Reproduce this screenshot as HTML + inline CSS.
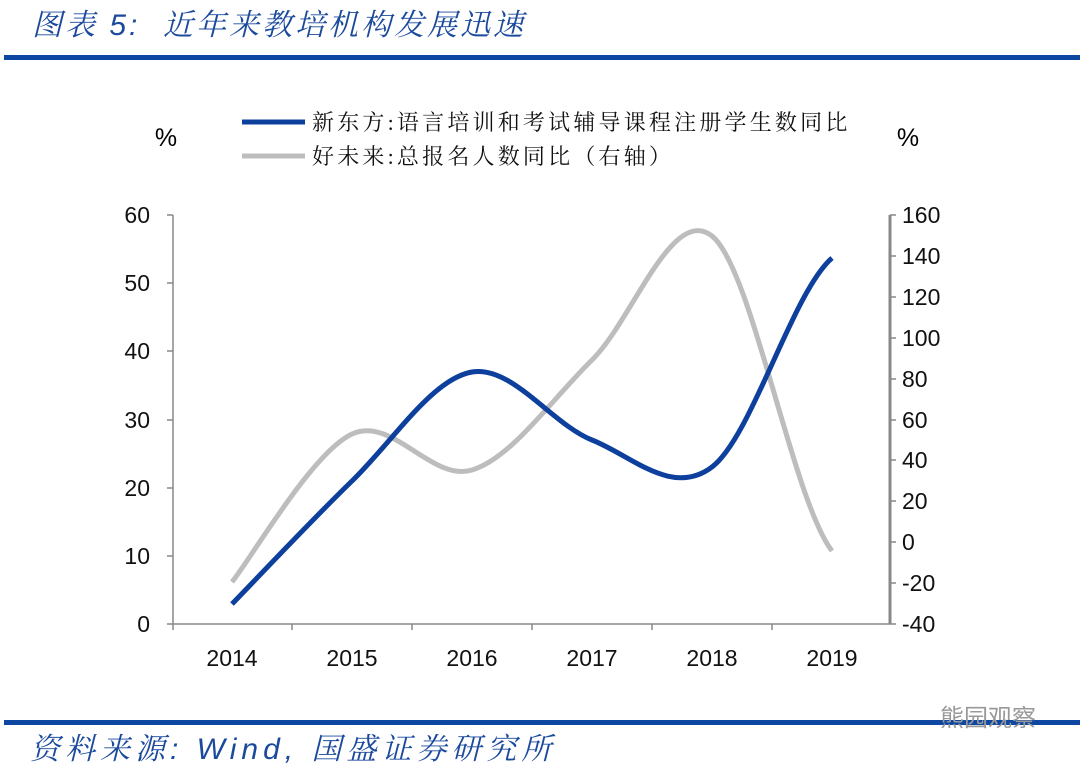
<!DOCTYPE html>
<html><head><meta charset="utf-8"><style>
body{margin:0;background:#fff;width:1080px;height:762px;overflow:hidden;position:relative}
.t{position:absolute;font-family:"Liberation Sans","Noto Serif CJK SC",serif;font-style:italic;color:#1b4a9c;white-space:nowrap}
</style></head><body>
<div class="t" style="left:32px;top:0px;font-size:30px;letter-spacing:3px">图表 5:&nbsp; 近年来教培机构发展迅速</div>
<div style="position:absolute;left:4px;top:55px;width:1076px;height:5px;background:#0d47a1"></div>
<div style="position:absolute;left:4px;top:720px;width:1076px;height:5px;background:#0d47a1"></div>
<div class="t" style="left:30px;top:724px;font-size:30px;letter-spacing:5px">资料来源:&nbsp;Wind,&nbsp;国盛证券研究所</div>
<div style="position:absolute;left:940px;top:698px;font-family:'Noto Sans CJK SC',sans-serif;font-size:24px;color:#999">熊园观察</div>
<svg width="1080" height="762" style="position:absolute;left:0;top:0" font-family="Liberation Sans, sans-serif">
<g stroke="#888" stroke-width="1.5" fill="none">
<line x1="173" y1="215" x2="173" y2="624"/>
<line x1="173" y1="624" x2="890" y2="624"/>
<line x1="890" y1="215" x2="890" y2="624" stroke-width="3"/>
<path d="M167 215h6M167 283h6M167 351h6M167 420h6M167 488h6M167 556h6M167 624h6"/>
<path d="M890 215h6M890 256h6M890 297h6M890 338h6M890 379h6M890 420h6M890 460h6M890 501h6M890 542h6M890 583h6M890 624h6"/>
<path d="M173 624v6M292 624v6M412 624v6M532 624v6M652 624v6M772 624v6"/>
</g>
<g font-size="23" fill="#111" text-anchor="end">
<text x="150" y="223">60</text><text x="150" y="291">50</text><text x="150" y="359">40</text><text x="150" y="428">30</text><text x="150" y="496">20</text><text x="150" y="564">10</text><text x="150" y="632">0</text>
</g>
<g font-size="23" fill="#111" text-anchor="start">
<text x="902" y="223">160</text><text x="902" y="264">140</text><text x="902" y="305">120</text><text x="902" y="346">100</text><text x="902" y="387">80</text><text x="902" y="428">60</text><text x="902" y="468">40</text><text x="902" y="509">20</text><text x="902" y="550">0</text><text x="902" y="591">-20</text><text x="902" y="632">-40</text>
</g>
<g font-size="23" fill="#111" text-anchor="middle">
<text x="232" y="666">2014</text><text x="352" y="666">2015</text><text x="472" y="666">2016</text><text x="592" y="666">2017</text><text x="712" y="666">2018</text><text x="832" y="666">2019</text>
</g>
<text x="166" y="146" font-size="25" text-anchor="middle">%</text>
<text x="908" y="146" font-size="25" text-anchor="middle">%</text>
<line x1="242" y1="122" x2="305" y2="122" stroke="#0d3f9c" stroke-width="5"/>
<line x1="242" y1="156" x2="305" y2="156" stroke="#bdbdbd" stroke-width="5"/>
<g font-family="Liberation Serif, Noto Serif CJK SC, serif" font-size="22" fill="#111" letter-spacing="3.2">
<text x="312" y="130">新东方:语言培训和考试辅导课程注册学生数同比</text>
<text x="312" y="164">好未来:总报名人数同比（右轴）</text>
</g>
<path fill="none" stroke="#bdbdbd" stroke-width="5" d="M232 582C252 557.3 312 452.7 352 434C392 415.3 432 482.3 472 470C512 457.7 552 399 592 360C632 321 672 204.2 712 236C752 267.8 792 498.5 832 551"/>
<path fill="none" stroke="#0d3f9c" stroke-width="5" d="M232 604C252 583.5 312 519.7 352 481C392 442.3 432 378.8 472 372C512 365.2 552 424.2 592 440C632 455.8 672 497.3 712 467C752 436.7 792 292.8 832 258"/>
</svg>
</body></html>
